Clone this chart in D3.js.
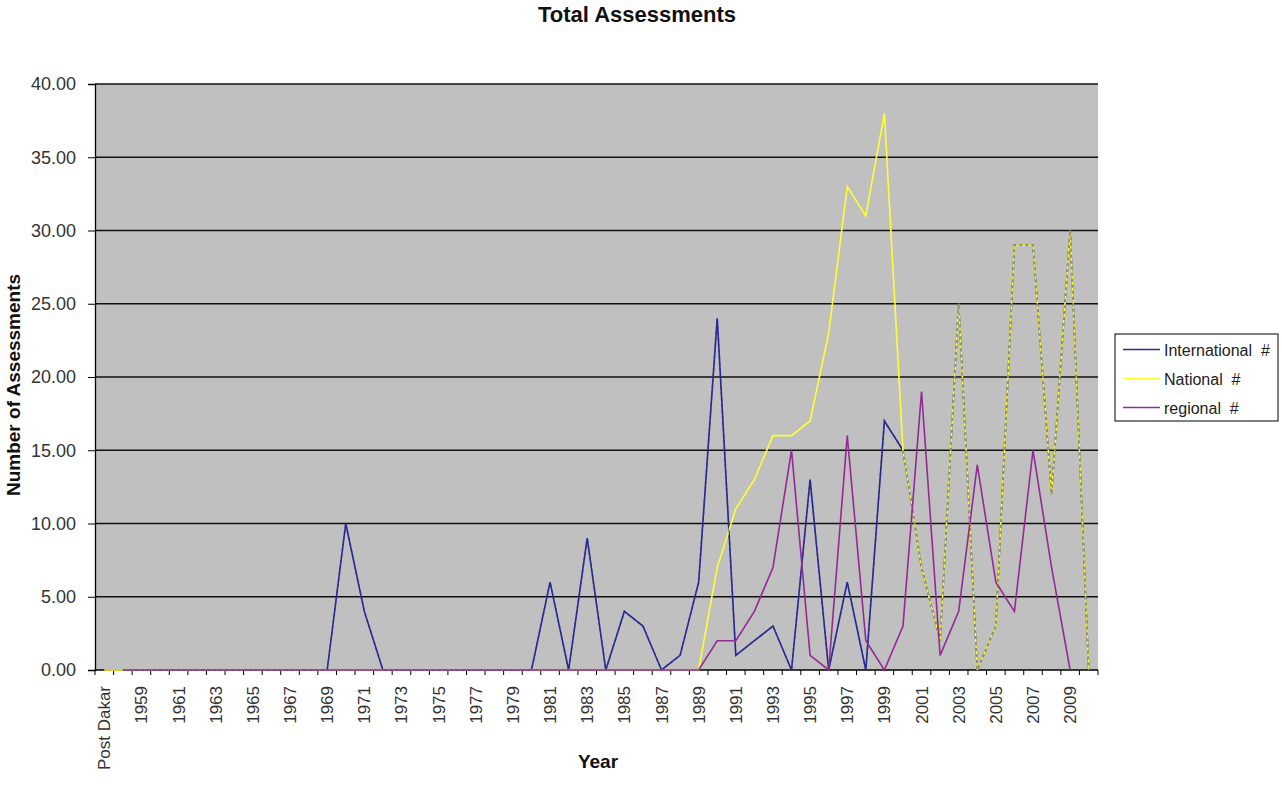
<!DOCTYPE html>
<html>
<head>
<meta charset="utf-8">
<script src="https://d3js.org/d3.v7.min.js"></script>
<style>
  body { margin: 0; background: #fff; }
  text { font-family: "Liberation Sans", Arial, sans-serif; }
</style>
</head>
<body>
<div id="chart-area"></div>
<script>

// categories: "Post Dakar" then 1958 .. 2010
var categories = ["Post Dakar",
  "1958","1959","1960","1961","1962","1963","1964","1965","1966","1967",
  "1968","1969","1970","1971","1972","1973","1974","1975","1976","1977",
  "1978","1979","1980","1981","1982","1983","1984","1985","1986","1987",
  "1988","1989","1990","1991","1992","1993","1994","1995","1996","1997",
  "1998","1999","2000","2001","2002","2003","2004","2005","2006","2007",
  "2008","2009","2010"];

var internationalVals = [null,
  0,0,0,0,0,0,0,0,0,0,
  0,0,10,4,0,0,0,0,0,0,
  0,0,0,6,0,9,0,4,3,0,
  1,6,24,1,2,3,0,13,0,6,
  0,17,15,7,2,25,0,3,29,29,
  12,30,0];

var nationalVals = [0,
  0,0,0,0,0,0,0,0,0,0,
  0,0,0,0,0,0,0,0,0,0,
  0,0,0,0,0,0,0,0,0,0,
  0,0,7,11,13,16,16,17,23,33,
  31,38,15,7,2,25,0,3,29,29,
  12,30,0];

var regionalVals = [null,
  0,0,0,0,0,0,0,0,0,0,
  0,0,0,0,0,0,0,0,0,0,
  0,0,0,0,0,0,0,0,0,0,
  0,0,2,2,4,7,15,1,0,16,
  2,0,3,19,1,4,14,6,4,15,
  7,0,null];

var seriesNames = ["International  #", "National  #", "regional  #"];
var seriesColors = ["#2a2a92", "#ffff30", "#942a94"];

var yTicks = [0, 5, 10, 15, 20, 25, 30, 35, 40];

var margin = { top: 84, left: 95 };
var width = 1098 - margin.left,
    height = 670 - margin.top;

var svg = d3.select("#chart-area").append("svg")
    .attr("width", 1282)
    .attr("height", 800);

// title
svg.append("text")
    .attr("x", 637).attr("y", 22)
    .attr("text-anchor", "middle")
    .style("font-size", "22px").style("font-weight", "bold")
    .attr("fill", "#111")
    .text("Total Assessments");

var g = svg.append("g")
    .attr("transform", "translate(" + margin.left + "," + margin.top + ")");

// Scales
var x = d3.scaleBand()
    .domain(categories)
    .range([0, width])
    .paddingInner(0).paddingOuter(0);

var y = d3.scaleLinear()
    .domain([0, 40])
    .range([height, 0]);

var cx = function(i) { return x(categories[i]) + x.bandwidth() / 2; };

// plot area
g.append("rect")
    .attr("width", width).attr("height", height)
    .attr("fill", "#c0c0c0");

// gridlines
g.selectAll(".grid").data(yTicks.slice(1))
  .enter().append("line")
    .attr("class", "grid")
    .attr("x1", 0).attr("x2", width)
    .attr("y1", function(d) { return y(d); })
    .attr("y2", function(d) { return y(d); })
    .attr("stroke", "#111").attr("stroke-width", 1.3);

// y axis
var yAxis = d3.axisLeft(y)
    .tickValues(yTicks)
    .tickSize(7)
    .tickPadding(12)
    .tickFormat(d3.format(".2f"));

var yg = g.append("g").attr("class", "y-axis axis").call(yAxis);
yg.select(".domain").attr("stroke", "#000").attr("stroke-width", 1.3);
yg.selectAll(".tick line").attr("stroke", "#000");
yg.selectAll("text")
    .attr("fill", "#333")
    .style("font-size", "18px")
    .style("font-family", "'Liberation Sans', Arial, sans-serif");

// x axis: ticks between categories, labels every other one
var xg = g.append("g")
    .attr("class", "x-axis axis")
    .attr("transform", "translate(0," + height + ")");

xg.append("line")
    .attr("x1", 0).attr("x2", width)
    .attr("stroke", "#000").attr("stroke-width", 1.3);

xg.selectAll(".xtick").data(categories.concat(["end"]))
  .enter().append("line")
    .attr("class", "xtick")
    .attr("x1", function(d, i) { return i * x.bandwidth(); })
    .attr("x2", function(d, i) { return i * x.bandwidth(); })
    .attr("y1", 0).attr("y2", 5)
    .attr("stroke", "#000");

xg.selectAll(".xlabel")
    .data(categories.filter(function(d, i) { return i % 2 === 0; }))
  .enter().append("text")
    .attr("class", "xlabel")
    .attr("transform", function(d) {
      return "translate(" + (x(d) + x.bandwidth() / 2 + 6) + ",16) rotate(-90)";
    })
    .attr("text-anchor", "end")
    .attr("fill", "#333")
    .style("font-size", "17px")
    .text(function(d) { return d; });

// axis titles
svg.append("text")
    .attr("transform", "translate(20,385) rotate(-90)")
    .attr("text-anchor", "middle")
    .style("font-size", "19px").style("font-weight", "bold")
    .attr("fill", "#111")
    .text("Number of Assessments");

svg.append("text")
    .attr("x", 598).attr("y", 768)
    .attr("text-anchor", "middle")
    .style("font-size", "19px").style("font-weight", "bold")
    .attr("fill", "#111")
    .text("Year");

// lines
var line = d3.line()
    .defined(function(d) { return d !== null; })
    .x(function(d, i) { return cx(i); })
    .y(function(d) { return y(d); });

g.append("path").datum(internationalVals)
    .attr("fill", "none").attr("stroke", seriesColors[0])
    .attr("stroke-width", 1.6).attr("d", line);

g.append("path").datum(nationalVals)
    .attr("fill", "none").attr("stroke", seriesColors[1])
    .attr("stroke-width", 1.6).attr("d", line);

// where International sits under National the excel render looks striped
g.append("path").datum(internationalVals)
    .attr("fill", "none").attr("stroke", seriesColors[0])
    .attr("stroke-opacity", 0.5)
    .attr("stroke-dasharray", "3,3")
    .attr("stroke-width", 1.6).attr("d", line);

g.append("path").datum(regionalVals)
    .attr("fill", "none").attr("stroke", seriesColors[2])
    .attr("stroke-width", 1.6).attr("d", line);

// legend
var legend = svg.append("g").attr("transform", "translate(1115,334)");
legend.append("rect")
    .attr("width", 163).attr("height", 87)
    .attr("fill", "#fff").attr("stroke", "#000");

var rows = legend.selectAll(".lrow").data(seriesNames)
  .enter().append("g")
    .attr("class", "lrow")
    .attr("transform", function(d, i) { return "translate(0," + (15.5 + i * 29) + ")"; });

rows.append("line")
    .attr("x1", 8).attr("x2", 45)
    .attr("stroke", function(d, i) { return seriesColors[i]; })
    .attr("stroke-width", 1.6);

rows.append("text")
    .attr("x", 49).attr("y", 6)
    .style("font-size", "16px")
    .style("white-space", "pre")
    .attr("fill", "#222")
    .text(function(d) { return d; });

</script>
</body>
</html>
